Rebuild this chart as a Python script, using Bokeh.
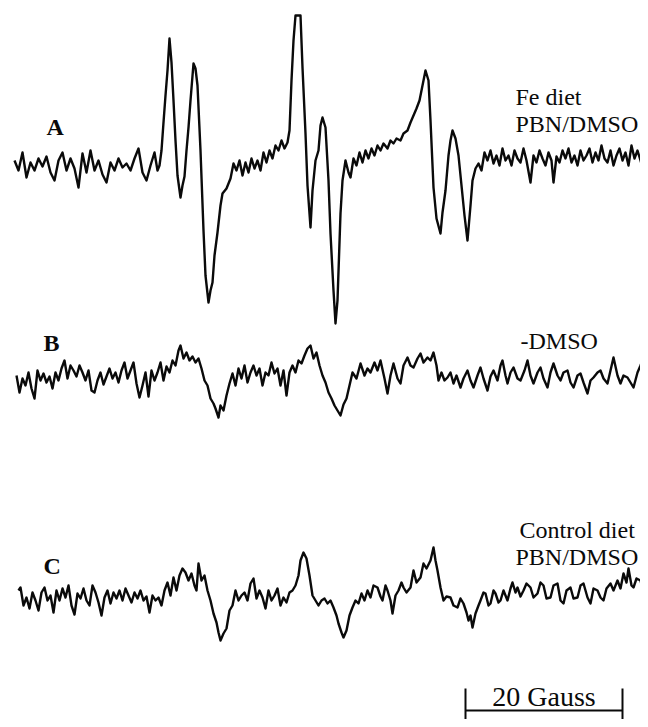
import numpy as np
from bokeh.plotting import figure
from bokeh.models import Range1d
from bokeh.core.properties import value
from bokeh.embed import file_html
from bokeh.resources import INLINE

# ---- Data: field axis in spectrometer channels, signal in arbitrary units ----
CH_PER_GAUSS = 7.85        # channels per Gauss
SCALE_GAUSS = 20           # scale bar length (G)
SCALE_START_CH = 451       # scale bar start (channel)

# Trace A: Fe diet, PBN/DMSO
a_ch = [0,4,8,12,16,20,24,28,32,36,40,44,48,52,56,60,64,68,72,76,80,84,88,92,96,100,104,108,112,116,120,124,128,132,136,140,
        143,145,147,149,151,153,155,157,159,161,163,166,168,170,172,174,176,179,181,183,
        186,189,191,194,196,198,200,203,206,208,212,216,219,
        222,225,228,231,234,237,240,243,246,249,252,255,258,261,264,267,270,273,
        275,277,279,281,286,288,291,293,296,298,
        301,304,306,308,311,314,316,319,321,323,326,328,
        331,334,336,339,342,345,348,351,354,357,360,363,366,369,
        373,376,379,382,386,389,393,396,399,402,405,408,411,414,416,419,422,426,428,431,434,436,438,441,444,447,450,453,456,458,
        461,464,467,470,473,476,479,482,485,488,491,494,497,500,503,506,509,512,
        516,519,522,525,528,531,534,537,539,
        542,545,548,551,554,557,560,563,566,569,572,575,578,581,584,587,590,593,596,599,602,605,608,611,614,617,620,623,626,629,631]
a_sig = [7,-3,15,-10,5,-3,9,1,11,-5,-13,7,15,-3,9,-1,-20,14,-5,17,-3,7,-7,-15,5,-3,9,0,4,-3,9,19,-5,-13,2,15,
         -3,2,17,45,72,97,129,105,67,27,-8,-30,-18,-9,17,40,67,104,99,82,
         17,-63,-108,-135,-123,-115,-88,-65,-38,-26,-21,-11,4,
         -3,7,-8,5,-5,9,-1,7,-3,15,5,17,9,22,17,27,19,25,
         37,87,127,152,152,100,34,-18,-60,-23,
         7,17,42,50,40,-13,-66,-123,-156,-133,-46,-13,
         7,-5,-10,9,2,15,5,17,9,19,12,22,17,24,
         19,27,24,29,27,34,37,45,52,59,67,82,97,87,47,-20,-51,-66,-45,-23,12,27,37,29,12,-18,-48,-73,-38,-13,
         -1,4,-3,15,7,17,4,12,2,19,7,12,2,17,9,5,19,7,
         -15,12,5,17,9,2,15,7,-15,
         11,5,17,9,19,5,12,2,17,7,12,19,5,15,7,22,9,5,17,2,12,19,7,15,2,22,9,17,7,-3,9]

# Trace B: -DMSO
b_ch = [2,5,8,11,14,17,20,23,26,29,32,35,38,41,44,47,50,53,56,59,62,65,68,71,74,77,80,83,86,89,92,95,98,101,104,107,110,113,116,119,
        122,125,128,131,134,137,140,143,146,149,152,155,158,161,164,166,169,172,175,178,181,184,187,190,193,196,199,201,204,206,
        209,212,215,218,221,224,227,230,233,236,239,242,245,248,251,254,257,260,263,266,269,272,275,278,281,284,287,290,293,296,
        299,302,305,308,311,314,317,320,323,326,329,332,335,338,342,346,350,353,356,360,363,366,370,373,376,379,383,386,389,393,
        396,399,403,406,409,413,416,419,422,424,427,430,433,436,439,442,446,449,453,456,459,463,466,469,473,476,479,483,486,488,
        491,493,496,499,503,506,510,513,516,519,523,526,529,533,536,539,543,546,549,553,556,559,563,566,569,573,576,579,583,586,
        589,593,596,599,603,606,609,613,616,619,623,626,629,631]
b_sig = [5,-12,2,-5,8,-8,-18,10,0,7,
         -2,4,-8,8,0,12,20,2,15,10,
         4,15,8,0,10,-10,-12,0,8,-4,
         4,12,2,8,-2,10,18,2,10,18,
         -3,-17,-5,8,-16,10,0,8,18,0,
         14,8,20,15,30,35,22,28,20,24,
         18,22,12,0,-5,-18,-23,-28,-37,-25,
         -30,-15,-3,7,-5,12,2,15,-2,8,
         15,5,12,-5,8,5,18,7,12,-5,
         10,-15,8,15,8,20,17,25,32,35,
         22,28,15,5,-2,-12,-18,-25,-30,-35,
         -24,-18,-5,8,2,17,5,12,8,18,
         10,20,2,-13,5,17,2,-3,15,23,
         15,13,22,27,18,23,20,28,15,0,
         8,0,3,8,-3,5,-7,2,10,0,
         -7,5,13,2,-10,4,10,0,15,20,
         5,-3,8,13,2,0,10,20,5,-3,
         8,13,2,-7,8,17,5,0,8,10,
         -2,-7,5,7,-2,-13,0,3,8,10,
         2,-3,10,23,5,-3,5,3,-2,-7,
         8,15,23,7]

# Trace C: Control diet, PBN/DMSO
c_ch = [4,6,9,12,15,18,21,24,27,30,33,36,39,42,45,48,51,54,57,60,63,66,69,72,75,78,81,84,87,90,93,96,99,102,105,108,111,114,117,120,
        123,126,129,132,135,138,141,144,147,150,153,156,159,162,165,168,171,174,177,180,182,184,187,190,193,196,199,202,204,206,
        209,212,215,218,221,224,227,230,233,236,239,242,245,248,251,254,257,260,263,266,269,272,275,278,281,284,286,289,292,295,
        298,301,304,307,310,313,316,319,322,324,327,329,332,335,338,341,344,347,350,353,356,359,363,366,368,371,373,376,378,381,
        384,387,389,392,396,399,402,406,409,412,416,419,421,423,426,429,432,436,439,443,446,449,452,454,456,458,461,464,466,469,
        471,474,476,479,481,484,486,489,493,496,498,501,503,506,509,512,516,519,523,526,529,532,536,539,543,546,549,552,556,559,
        563,566,569,573,576,579,583,586,589,592,596,599,603,606,609,612,614,617,619,622,626,629,631]
c_sig = [8,11,-7,1,-10,6,-2,-12,6,11,
         -2,3,-14,8,-2,10,1,13,-7,-16,
         5,0,10,-2,-7,13,6,-4,-17,1,
         8,-5,6,0,8,-2,10,3,-4,6,
         0,8,-2,2,-14,3,-2,1,-7,8,
         16,3,21,8,23,30,26,18,25,13,
         8,35,18,23,8,-2,-15,-24,-34,-42,
         -35,-30,-12,-7,8,-2,3,6,-2,15,
         20,0,8,1,-10,8,-2,3,10,-7,
         1,-4,6,8,13,23,38,46,40,23,
         3,-2,-7,-2,0,-5,-2,-9,-17,-25,
         -34,-39,-32,-17,-9,-2,-5,5,-2,8,
         1,13,11,2,-2,13,8,-2,-15,3,
         8,16,11,6,11,28,16,21,35,30,
         38,51,38,28,11,-2,2,1,-7,-9,
         0,-5,-14,-22,-17,-29,-15,-7,-2,6,
         5,-7,-5,8,5,-4,-2,8,-2,10,
         16,6,11,2,8,15,11,1,5,16,
         13,0,1,13,15,-2,-5,8,11,0,
         1,13,15,1,-5,10,8,1,-2,10,
         15,8,18,10,25,16,30,13,11,20,
         18,6,1]

# ---- Layout (vertical stacking offsets of the three spectra) ----
OFF_A, OFF_B, OFF_C = 560, 347, 129
TXT_SHIFT = 8   # compensates renderer baseline placement

p = figure(width=640, height=719, output_backend="svg", toolbar_location=None,
           x_range=Range1d(-14, 626), y_range=Range1d(8, 727),
           x_axis_location=None, y_axis_location=None, min_border=0)
p.min_border_left = p.min_border_right = p.min_border_top = p.min_border_bottom = 0
p.grid.visible = False
p.outline_line_color = None
p.background_fill_color = "white"
p.border_fill_color = "white"

INK = "#0a0a0a"
for ch, sig, off in ((a_ch, a_sig, OFF_A), (b_ch, b_sig, OFF_B), (c_ch, c_sig, OFF_C)):
    n = min(len(ch), len(sig))
    p.line(np.array(ch[:n]), np.array(sig[:n]) + off, line_width=2.4, line_color=INK,
           line_join="round")

SERIF = value("Liberation Serif")

def label(x, y, txt, size="24px", style="normal", align="left"):
    p.text(x=[x], y=[y + TXT_SHIFT], text=[txt], text_font=SERIF, text_font_size=size,
           text_font_style=style, text_color=INK, text_align=align,
           text_baseline="alphabetic")

label(32, OFF_A + 33, "A", size="24px", style="bold")
label(29, OFF_B + 30, "B", size="24px", style="bold")
label(29, OFF_C + 25, "C", size="24px", style="bold")

label(501, OFF_A + 63, "Fe diet")
label(501, OFF_A + 36, "PBN/DMSO")
label(506, OFF_B + 32, "-DMSO")
label(505, OFF_C + 61, "Control diet")
label(501, OFF_C + 34, "PBN/DMSO")

# ---- 20 Gauss scale bar ----
bar_end = SCALE_START_CH + SCALE_GAUSS * CH_PER_GAUSS
p.line([SCALE_START_CH, bar_end], [17, 17], line_width=2, line_color=INK)
p.segment(x0=[SCALE_START_CH, bar_end], y0=[39, 39], x1=[SCALE_START_CH, bar_end], y1=[0, 0],
          line_width=2, line_color=INK)
label((SCALE_START_CH + bar_end) / 2, 23, f"{SCALE_GAUSS} Gauss", size="28px", align="center")

open("out.html", "w").write(file_html(p, INLINE))
